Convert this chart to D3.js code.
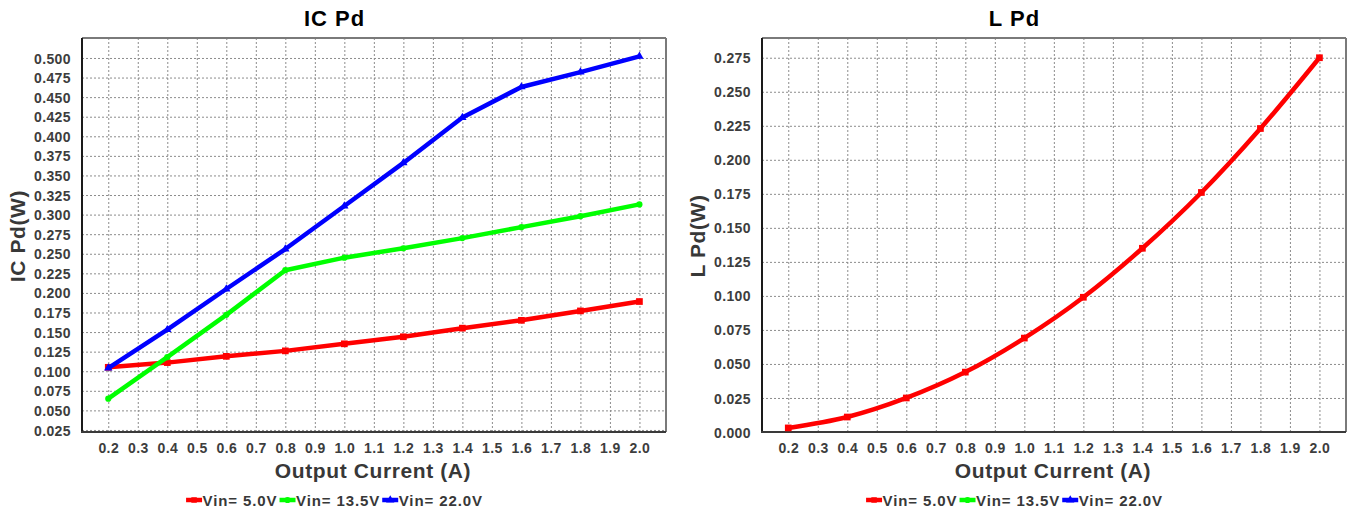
<!DOCTYPE html>
<html>
<head>
<meta charset="utf-8">
<script src="https://cdn.jsdelivr.net/npm/d3@7"></script>
<style>
  html, body { margin: 0; padding: 0; background: #fff; }
  svg { display: block; font-family: "Liberation Sans", Arial, sans-serif; }
  .tick text { font-size: 14px; font-weight: bold; fill: #3d3d3d; letter-spacing: 0.4px; }
  .grid line { stroke: #8c8c8c; stroke-width: 1; stroke-dasharray: 2 2; }
  .grid .domain { display: none; }
</style>
</head>
<body>
<svg id="chart" width="1349" height="512"></svg>
<script>
// Output current steps (A)
const currents = [0.2, 0.4, 0.6, 0.8, 1.0, 1.2, 1.4, 1.6, 1.8, 2.0];

// IC power dissipation (W) per input voltage
const icPdVin5  = [0.105, 0.111, 0.119, 0.126, 0.135, 0.144, 0.155, 0.165, 0.177, 0.189];
const icPdVin13 = [0.065, 0.118, 0.172, 0.229, 0.245, 0.257, 0.270, 0.284, 0.298, 0.313];
const icPdVin22 = [0.104, 0.153, 0.205, 0.256, 0.311, 0.366, 0.424, 0.463, 0.482, 0.502];

// Inductor power dissipation (W), only measured at Vin = 5.0V
const lPdVin5 = [0.003, 0.011, 0.025, 0.044, 0.069, 0.099, 0.135, 0.176, 0.223, 0.275];

// Tick values
const xTicks = [0.2, 0.3, 0.4, 0.5, 0.6, 0.7, 0.8, 0.9, 1.0, 1.1, 1.2, 1.3, 1.4, 1.5, 1.6, 1.7, 1.8, 1.9, 2.0];
const icTicks = [0.025, 0.050, 0.075, 0.100, 0.125, 0.150, 0.175, 0.200, 0.225, 0.250,
                 0.275, 0.300, 0.325, 0.350, 0.375, 0.400, 0.425, 0.450, 0.475, 0.500];
const lTicks = [0.000, 0.025, 0.050, 0.075, 0.100, 0.125, 0.150, 0.175, 0.200, 0.225, 0.250, 0.275];

// Legend entries
const seriesNames = ["Vin= 5.0V", "Vin= 13.5V", "Vin= 22.0V"];
const seriesColors = ["#ff0000", "#00ff00", "#0000ff"];
const seriesSymbols = [d3.symbolSquare, d3.symbolCircle, d3.symbolTriangle];

const svg = d3.select("#chart");

const panelW = 669;
const margin = { left: 82, top: 38, right: 3, bottom: 80 };
const plotW = 584, plotH = 394;

function drawPanel(offsetX, cfg) {
  const g = svg.append("g").attr("transform", `translate(${offsetX},0)`);
  const plot = g.append("g").attr("transform", `translate(${margin.left},${margin.top})`);

  const x = d3.scaleLinear().domain([0.111, 2.09]).range([0, plotW]);
  const y = d3.scaleLinear().domain(cfg.yDomain).range([plotH, 0]);

  // Dotted grid
  plot.append("g").attr("class", "grid")
    .call(d3.axisLeft(y).tickValues(cfg.yTicks).tickSize(-plotW).tickFormat(""));
  plot.append("g").attr("class", "grid")
    .attr("transform", `translate(0,${plotH})`)
    .call(d3.axisBottom(x).tickValues(xTicks).tickSize(-plotH).tickFormat(""));

  // Frame: light top/right, dark left/bottom
  plot.append("line").attr("x1", 0).attr("x2", plotW).attr("y1", 0).attr("y2", 0)
    .attr("stroke", "#7a7a7a").attr("stroke-width", 2);
  plot.append("line").attr("x1", plotW).attr("x2", plotW).attr("y1", 0).attr("y2", plotH)
    .attr("stroke", "#7a7a7a").attr("stroke-width", 2);
  plot.append("line").attr("x1", 0).attr("x2", 0).attr("y1", 0).attr("y2", plotH + 1)
    .attr("stroke", "#1a1a1a").attr("stroke-width", 2);
  plot.append("line").attr("x1", -1).attr("x2", plotW).attr("y1", plotH).attr("y2", plotH)
    .attr("stroke", "#3a3a3a").attr("stroke-width", 2);

  // Tick labels
  const yAxis = plot.append("g")
    .call(d3.axisLeft(y).tickValues(cfg.yTicks).tickSize(0).tickPadding(11).tickFormat(d3.format(".3f")));
  yAxis.select(".domain").remove();
  yAxis.selectAll("text").attr("dy", "0.36em");

  const xAxis = plot.append("g").attr("transform", `translate(0,${plotH})`)
    .call(d3.axisBottom(x).tickValues(xTicks).tickSize(0).tickPadding(11).tickFormat(d3.format(".1f")));
  xAxis.select(".domain").remove();

  // Series lines and markers
  cfg.series.forEach(s => {
    const pts = currents.map((c, i) => [c, s.values[i]]);
    const line = d3.line().x(d => x(d[0])).y(d => y(d[1])).curve(cfg.curve);
    plot.append("path").datum(pts)
      .attr("fill", "none").attr("stroke", s.color).attr("stroke-width", 4.5)
      .attr("stroke-linejoin", "round").attr("d", line);
    plot.selectAll(null).data(pts).enter().append("path")
      .attr("transform", d => `translate(${x(d[0])},${y(d[1])})`)
      .attr("d", d3.symbol().type(s.symbol).size(s.size))
      .attr("fill", s.color);
  });

  // Title
  g.append("text").attr("x", panelW / 2).attr("y", 26)
    .attr("text-anchor", "middle").attr("font-size", 22).attr("font-weight", "bold")
    .attr("letter-spacing", 1).attr("fill", "#000").text(cfg.title);

  // Axis titles
  g.append("text").attr("x", margin.left + plotW / 2 - 1).attr("y", 478)
    .attr("text-anchor", "middle").attr("font-size", 21).attr("font-weight", "bold")
    .attr("letter-spacing", 0.6).attr("fill", "#383838").text("Output Current (A)");
  g.append("text").attr("transform", `translate(25,236) rotate(-90)`)
    .attr("text-anchor", "middle").attr("font-size", 21).attr("font-weight", "bold")
    .attr("letter-spacing", 0.6).attr("fill", "#383838").text(cfg.yLabel);

  // Legend
  const legend = g.append("g");
  let lx = 0;
  seriesNames.forEach((name, i) => {
    const item = legend.append("g").attr("transform", `translate(${lx},0)`);
    item.append("line").attr("x1", 0).attr("x2", 16).attr("y1", 0).attr("y2", 0)
      .attr("stroke", seriesColors[i]).attr("stroke-width", 4.5);
    item.append("path").attr("transform", "translate(8,0)")
      .attr("d", d3.symbol().type(seriesSymbols[i]).size(30)).attr("fill", seriesColors[i]);
    const t = item.append("text").attr("x", 16.5).attr("y", 5.5)
      .attr("font-size", 15).attr("font-weight", "bold").attr("letter-spacing", 0.9)
      .attr("fill", "#383838").text(name);
    lx += 16.5 + t.node().getComputedTextLength() + 2;
  });
  const lw = lx - 2;
  legend.attr("transform", `translate(${(panelW - lw) / 2},500)`);
}

drawPanel(0, {
  title: "IC Pd",
  yLabel: "IC Pd(W)",
  yDomain: [0.0224, 0.5255],
  yTicks: icTicks,
  curve: d3.curveLinear,
  series: [
    { values: icPdVin5,  color: seriesColors[0], symbol: d3.symbolSquare,   size: 45 },
    { values: icPdVin13, color: seriesColors[1], symbol: d3.symbolCircle,   size: 30 },
    { values: icPdVin22, color: seriesColors[2], symbol: d3.symbolTriangle, size: 30 }
  ]
});

drawPanel(680, {
  title: "L Pd",
  yLabel: "L Pd(W)",
  yDomain: [0, 0.2895],
  yTicks: lTicks,
  curve: d3.curveMonotoneX,
  series: [
    { values: lPdVin5, color: seriesColors[0], symbol: d3.symbolSquare, size: 45 }
  ]
});
</script>
</body>
</html>
